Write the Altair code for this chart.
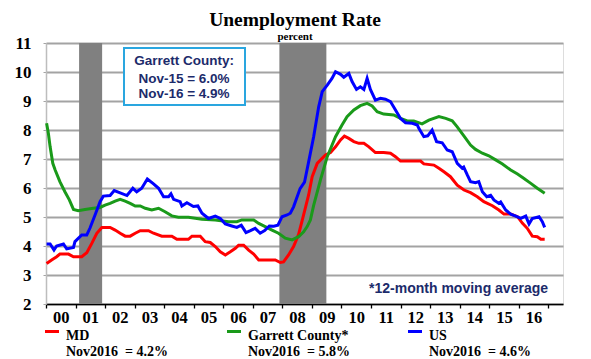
import altair as alt
import pandas as pd

# ---------------- data ----------------
us_t = [2000.02, 2000.14, 2000.27, 2000.36, 2000.59, 2000.70, 2000.93, 2000.98, 2001.21, 2001.38,
        2001.49, 2001.66, 2001.83, 2001.94, 2002.17, 2002.31, 2002.51, 2002.74, 2002.94, 2003.07,
        2003.24, 2003.43, 2003.64, 2003.81, 2003.98, 2004.15, 2004.23, 2004.32, 2004.54, 2004.60,
        2004.77, 2004.99, 2005.14, 2005.28, 2005.50, 2005.73, 2005.90, 2006.07, 2006.29, 2006.46,
        2006.61, 2006.77, 2006.92, 2007.08, 2007.25, 2007.40, 2007.56, 2007.71, 2007.85, 2007.99,
        2008.16, 2008.27, 2008.38, 2008.60, 2008.75, 2008.89, 2009.06, 2009.23, 2009.35, 2009.52,
        2009.68, 2009.80, 2009.97, 2010.08, 2010.25, 2010.36, 2010.51, 2010.64, 2010.76, 2010.87,
        2010.98, 2011.15, 2011.32, 2011.49, 2011.66, 2011.83, 2012.00, 2012.17, 2012.40, 2012.57,
        2012.62, 2012.79, 2012.92, 2013.07, 2013.22, 2013.41, 2013.58, 2013.75, 2013.92, 2014.09,
        2014.14, 2014.26, 2014.37, 2014.54, 2014.65, 2014.77, 2014.92, 2015.05, 2015.16, 2015.33,
        2015.39, 2015.56, 2015.73, 2015.90, 2016.07, 2016.24, 2016.35, 2016.46, 2016.69, 2016.80,
        2016.88]
us_v = [4.07, 4.07, 3.86, 4.00, 4.07, 3.90, 3.95, 4.15, 4.38, 4.38,
        4.62, 5.07, 5.53, 5.72, 5.74, 5.91, 5.83, 5.74, 5.99, 5.87,
        5.99, 6.31, 6.14, 5.99, 5.70, 5.70, 5.80, 5.61, 5.53, 5.38,
        5.49, 5.36, 5.38, 5.13, 4.95, 5.03, 4.95, 4.76, 4.69, 4.64,
        4.72, 4.46, 4.53, 4.61, 4.44, 4.53, 4.69, 4.68, 4.72, 5.01,
        5.07, 5.13, 5.35, 5.98, 6.20, 6.90, 7.77, 8.80, 9.32, 9.55,
        9.78, 10.01, 9.92, 9.82, 9.95, 9.67, 9.40, 9.49, 9.40, 9.78,
        9.40, 9.03, 9.09, 9.06, 8.98, 8.69, 8.40, 8.25, 8.23, 8.17,
        8.06, 7.77, 7.80, 8.00, 7.60, 7.56, 7.31, 7.25, 6.85, 6.68,
        6.72, 6.45, 6.22, 6.18, 6.22, 5.87, 5.70, 5.75, 5.59, 5.47,
        5.52, 5.24, 5.10, 5.03, 4.95, 5.03, 4.76, 4.95, 5.01, 4.84,
        4.64]

md_t = [2000.02, 2000.19, 2000.36, 2000.47, 2000.76, 2000.93, 2001.21, 2001.38, 2001.55, 2001.72,
        2001.89, 2002.17, 2002.34, 2002.51, 2002.68, 2002.85, 2003.02, 2003.19, 2003.47, 2003.64,
        2003.92, 2004.26, 2004.43, 2004.82, 2004.94, 2005.22, 2005.39, 2005.56, 2005.73, 2005.90,
        2006.07, 2006.24, 2006.41, 2006.52, 2006.69, 2006.86, 2007.03, 2007.20, 2007.76, 2007.93,
        2008.04, 2008.21, 2008.38, 2008.55, 2008.72, 2008.89, 2009.01, 2009.18, 2009.46, 2009.63,
        2009.80, 2009.97, 2010.10, 2010.25, 2010.42, 2010.59, 2010.76, 2010.93, 2011.15, 2011.43,
        2011.66, 2011.83, 2012.00, 2012.68, 2012.79, 2013.13, 2013.30, 2013.47, 2013.69, 2013.92,
        2014.15, 2014.37, 2014.60, 2014.82, 2015.11, 2015.33, 2015.50, 2015.73, 2015.96, 2016.13,
        2016.29, 2016.46, 2016.63, 2016.75, 2016.88]
md_v = [3.40, 3.52, 3.63, 3.72, 3.72, 3.63, 3.63, 3.77, 4.09, 4.44,
        4.64, 4.64, 4.55, 4.44, 4.34, 4.34, 4.44, 4.53, 4.53, 4.44,
        4.34, 4.34, 4.23, 4.23, 4.34, 4.34, 4.15, 4.12, 3.98, 3.80,
        3.69, 3.80, 3.92, 4.03, 4.03, 3.86, 3.72, 3.52, 3.52, 3.43,
        3.45, 3.69, 3.98, 4.40, 5.07, 5.76, 6.39, 6.85, 7.14, 7.22,
        7.42, 7.66, 7.79, 7.71, 7.60, 7.54, 7.54, 7.42, 7.22, 7.22,
        7.20, 7.08, 6.93, 6.93, 6.83, 6.79, 6.68, 6.56, 6.39, 6.10,
        5.93, 5.84, 5.70, 5.53, 5.39, 5.24, 5.10, 5.10, 5.01, 4.78,
        4.61, 4.34, 4.32, 4.23, 4.23]

gc_t = [2000.02, 2000.08, 2000.14, 2000.23, 2000.31, 2000.47, 2000.64, 2000.79, 2000.93, 2001.09,
        2001.32, 2001.60, 2001.83, 2002.00, 2002.17, 2002.34, 2002.51, 2002.68, 2002.85, 2003.02,
        2003.19, 2003.36, 2003.58, 2003.81, 2004.03, 2004.26, 2004.48, 2004.82, 2005.28, 2005.73,
        2006.18, 2006.46, 2006.63, 2007.03, 2007.20, 2007.42, 2007.65, 2007.87, 2008.10, 2008.33,
        2008.55, 2008.72, 2008.84, 2008.95, 2009.06, 2009.29, 2009.52, 2009.80, 2010.02, 2010.19,
        2010.42, 2010.64, 2010.87, 2011.04, 2011.21, 2011.43, 2011.77, 2012.00, 2012.23, 2012.45,
        2012.68, 2012.73, 2012.96, 2013.30, 2013.53, 2013.75, 2013.92, 2014.15, 2014.37, 2014.54,
        2014.77, 2014.99, 2015.22, 2015.45, 2015.73, 2015.96, 2016.18, 2016.41, 2016.63, 2016.88]
gc_v = [8.23, 7.89, 7.42, 6.85, 6.62, 6.22, 5.87, 5.59, 5.26, 5.22,
        5.26, 5.30, 5.33, 5.41, 5.47, 5.55, 5.61, 5.55, 5.47, 5.38,
        5.38, 5.30, 5.24, 5.30, 5.18, 5.04, 4.99, 4.99, 4.92, 4.90,
        4.84, 4.84, 4.90, 4.90, 4.78, 4.67, 4.55, 4.44, 4.27, 4.21,
        4.32, 4.49, 4.67, 4.90, 5.40, 6.28, 7.08, 7.77, 8.17, 8.46,
        8.69, 8.84, 8.92, 8.83, 8.63, 8.55, 8.52, 8.40, 8.31, 8.31,
        8.23, 8.21, 8.34, 8.46, 8.40, 8.32, 8.11, 7.79, 7.48, 7.33,
        7.20, 7.11, 6.97, 6.83, 6.62, 6.48, 6.33, 6.16, 5.99, 5.82]

series_names = ["MD", "Garrett County*", "US"]
series_colors = ["#ff0000", "#1a9a1a", "#0000ff"]
final_values = ["4.2", "5.8", "4.6"]

rec_start = [2001.12, 2007.90]
rec_end = [2001.90, 2009.49]

box_lines = ["Garrett County:", "Nov-15 = 6.0%", "Nov-16 = 4.9%"]
footnote = "*12-month moving average"
title_text = "Unemployment Rate"
subtitle_text = "percent"

# ---------------- build ----------------
df = pd.concat([
    pd.DataFrame({"year": md_t, "rate": md_v, "series": "MD"}),
    pd.DataFrame({"year": gc_t, "rate": gc_v, "series": "Garrett County*"}),
    pd.DataFrame({"year": us_t, "rate": us_v, "series": "US"}),
])
rec = pd.DataFrame({"start": rec_start, "end": rec_end})
one = pd.DataFrame({"k": [0]})

W, H = 517, 261
XMIN, XMAX = 2000, 2017.5
PXY = W / (XMAX - XMIN)

SERIF = "Liberation Serif"
SANS = "Liberation Sans"
NAVY = "#1c2b6b"

xscale = alt.Scale(domain=[XMIN, XMAX], nice=False, zero=False)
yscale = alt.Scale(domain=[2, 11], nice=False, zero=False)

x_axis = alt.Axis(values=list(range(2000, 2018)),
                  labelExpr="datum.value < 2017 ? format(datum.value - 2000, '02d') : ''",
                  labelOffset=PXY / 2, labelFlush=False, labelOverlap=False, labelBound=False,
                  grid=False, title=None,
                  labelFont=SERIF, labelFontWeight="bold", labelFontSize=16.5, labelColor="black",
                  labelPadding=1.5, tickSize=4, tickColor="black", tickWidth=1.3,
                  domainColor="black", domainWidth=1.5)
y_axis = alt.Axis(values=list(range(2, 12)), title=None, grid=True,
                  gridColor="#a3a3a3", gridWidth=2, labelFlush=False,
                  labelFont=SERIF, labelFontWeight="bold", labelFontSize=17, labelColor="black",
                  labelPadding=12, tickSize=3, tickColor="#a3a3a3", domainColor="#bdbdbd", domainWidth=1.5)

bars = alt.Chart(rec).mark_rect(color="#808080", opacity=1).encode(
    x=alt.X("start:Q", scale=xscale, axis=x_axis),
    x2="end:Q",
)

lines = alt.Chart(df).mark_line(strokeWidth=3).encode(
    x=alt.X("year:Q", scale=xscale, axis=x_axis),
    y=alt.Y("rate:Q", scale=yscale, axis=y_axis),
    color=alt.Color("series:N", scale=alt.Scale(domain=series_names, range=series_colors), legend=None),
    order="year:Q",
)


def txt(s, x, y, size, font=SERIF, weight="bold", color="black", align="left"):
    return alt.Chart(one).mark_text(text=s, font=font, fontWeight=weight, fontSize=size, color=color,
                                    align=align, baseline="alphabetic").encode(
        x=alt.value(x), y=alt.value(y))


box = alt.Chart(one).mark_rect(fill="white", stroke="#2aa6df", strokeWidth=2).encode(
    x=alt.value(78), x2=alt.value(199), y=alt.value(5), y2=alt.value(62))

layers = [bars, lines, box]
for s, yy in zip(box_lines, [22, 39.5, 55]):
    layers.append(txt(s, 138, yy, 13.5, font=SANS, color=NAVY, align="center"))

layers.append(txt(footnote, 502, 250, 14, font=SANS, color=NAVY, align="right"))
layers.append(txt(title_text, 249, -17, 19.5, align="center"))
layers.append(txt(subtitle_text, 249, -3.5, 11, align="center"))

# bottom legend
sw_x = [-1, 181, 362]
for name, col, val, x0 in zip(series_names, series_colors, final_values, sw_x):
    layers.append(alt.Chart(one).mark_rule(color=col, strokeWidth=3).encode(
        x=alt.value(x0), x2=alt.value(x0 + 14), y=alt.value(288.5)))
    layers.append(txt(name, x0 + 21, 296.5, 14))
    layers.append(txt("Nov2016\u00a0 = " + val + "%", x0 + 21, 312.5, 14))

chart = alt.layer(*layers).properties(
    width=W, height=H,
    autosize=alt.AutoSizeParams(type="none"),
    padding={"left": 38, "top": 35, "right": 20, "bottom": 56},
).configure_view(stroke="#7a7a7a", strokeWidth=1.2).configure(background="white")

chart.save("out.html", embed_options={"renderer": "svg", "actions": False})
